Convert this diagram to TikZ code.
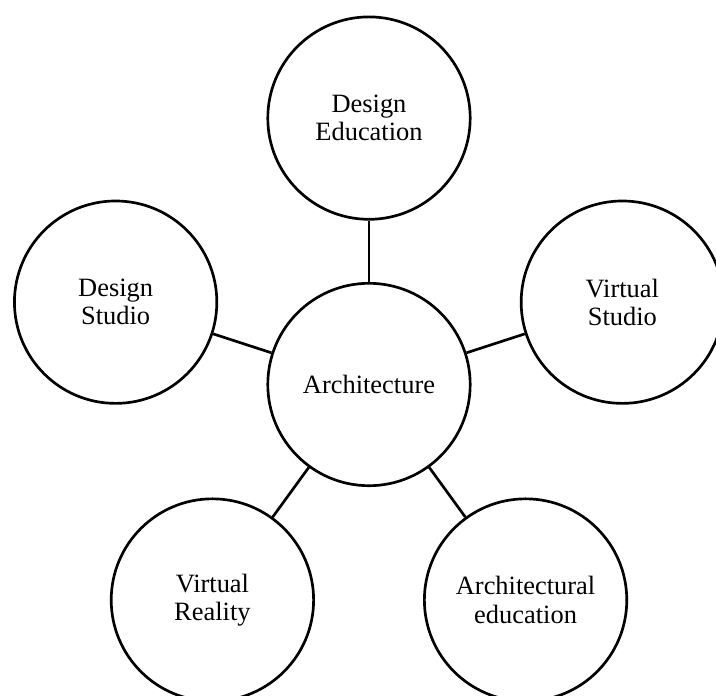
\documentclass[tikz,border=0pt]{standalone}
\usepackage{fontspec}
\setmainfont{Liberation Serif}

\begin{document}
\begin{tikzpicture}[
  topic/.style={circle,draw,line width=1.9pt,minimum size=5.06cm,inner sep=0pt,align=center,
    font=\fontsize{18.8}{20.2}\selectfont},
  link/.style={line width=1.9pt}]
\useasboundingbox (-9.225,-7.7625) rectangle (8.675,9.6125);

\node[topic] (arch) at (0,0) {Architecture};
\node[topic] (dedu) at (90:6.66) {Design\\Education};
\node[topic] (dstu) at (162:6.66) {Design\\Studio};
\node[topic] (vrea) at (234:6.66) {Virtual\\Reality};
\node[topic] (aedu) at (306:6.66) {Architectural\\education};
\node[topic] (vstu) at (18:6.66) {Virtual\\Studio};

\foreach \t in {dedu,dstu,vrea,aedu,vstu}{
	\draw[link] (arch) -- (\t);
	}
\end{tikzpicture}
\end{document}
